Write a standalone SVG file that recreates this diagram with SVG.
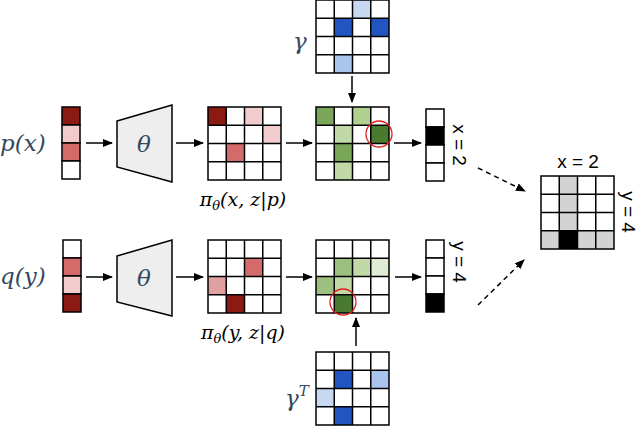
<svg xmlns="http://www.w3.org/2000/svg" width="640" height="426" viewBox="0 0 640 426">
<style>
.c{stroke:#000;stroke-width:1.5;fill:#fff}
.m{font-family:"DejaVu Serif","Liberation Serif",serif;font-style:italic;fill:#34495e;font-size:23px}
.k{font-family:"DejaVu Serif","Liberation Serif",serif;font-style:italic;fill:#000;font-size:19px}
.s{font-family:"Liberation Sans",Arial,sans-serif;font-size:19px;fill:#000}
.a{stroke:#000;stroke-width:1.5;fill:none}
.tr{fill:#eeeeee;stroke:#000;stroke-width:1.5}
.gr{fill:none;stroke:#000;stroke-width:1.5}
</style>
<defs>
<marker id="ah" markerWidth="10" markerHeight="8" refX="9" refY="4" orient="auto" markerUnits="userSpaceOnUse"><path d="M0,0 L10,4 L0,8 z" fill="#000"/></marker>
<path id="grid" d="M0,0h73v73h-73z M18.25,0v73 M36.5,0v73 M54.75,0v73 M0,18.25h73 M0,36.5h73 M0,54.75h73"/>
</defs>

<g id="px"><text class="m" x="0" y="151">p(x)</text>
<rect class="c" x="62" y="107" width="18" height="18" style="fill:#8b1a13"/>
<rect class="c" x="62" y="125" width="18" height="18" style="fill:#f2cccc"/>
<rect class="c" x="62" y="143" width="18" height="18" style="fill:#d46a6a"/>
<rect class="c" x="62" y="161" width="18" height="18"/></g>

<g id="theta1"><path class="tr" d="M117,121 L172,105 L172,182 L117,167 z"/><text class="m" x="144" y="152" text-anchor="middle">θ</text></g>

<g id="pi1">
<rect x="208" y="107" width="73" height="73" fill="#fff"/>
<rect x="208" y="107" width="18.25" height="18.25" fill="#8b1a13"/>
<rect x="244.5" y="107" width="18.25" height="18.25" fill="#f2cccc"/>
<rect x="262.75" y="125.25" width="18.25" height="18.25" fill="#f2cccc"/>
<rect x="226.25" y="143.5" width="18.25" height="18.25" fill="#d46a6a"/>
<use href="#grid" class="gr" x="208" y="107"/>
<text class="k" x="243" y="206" text-anchor="middle">π<tspan font-size="13" dy="4">θ</tspan><tspan dy="-4">(x, z|p)</tspan></text></g>

<g id="gamma">
<rect x="316" y="0" width="73" height="73" fill="#fff"/>
<rect x="352.5" y="0" width="18.25" height="18.25" fill="#c8d8f2"/>
<rect x="334.25" y="18.25" width="18.25" height="18.25" fill="#2255c0"/>
<rect x="370.75" y="18.25" width="18.25" height="18.25" fill="#2255c0"/>
<rect x="334.25" y="54.75" width="18.25" height="18.25" fill="#aac4ee"/>
<use href="#grid" class="gr" x="316" y="0"/>
<text class="m" x="293" y="49">γ</text></g>

<g id="z1">
<rect x="316" y="107" width="73" height="73" fill="#fff"/>
<rect x="316" y="107" width="18.25" height="18.25" fill="#7aa65a"/>
<rect x="352.5" y="107" width="18.25" height="18.25" fill="#b0d090"/>
<rect x="334.25" y="125.25" width="18.25" height="18.25" fill="#c0d9a6"/>
<rect x="370.75" y="125.25" width="18.25" height="18.25" fill="#4a7a30"/>
<rect x="334.25" y="143.5" width="18.25" height="18.25" fill="#7aa65a"/>
<rect x="334.25" y="161.75" width="18.25" height="18.25" fill="#c0d9a6"/>
<use href="#grid" class="gr" x="316" y="107"/>
<circle cx="379" cy="134" r="13" fill="none" stroke="#e02020" stroke-width="1.3"/></g>

<g id="ox">
<rect class="c" x="426" y="109" width="18" height="18"/>
<rect class="c" x="426" y="127" width="18" height="18" style="fill:#000"/>
<rect class="c" x="426" y="145" width="18" height="18"/>
<rect class="c" x="426" y="163" width="18" height="18"/>
<text class="s" transform="translate(453,145) rotate(90)" text-anchor="middle">x = 2</text></g>

<g id="qy"><text class="m" x="0" y="284">q(y)</text>
<rect class="c" x="63" y="240" width="18" height="18"/>
<rect class="c" x="63" y="258" width="18" height="18" style="fill:#d46a6a"/>
<rect class="c" x="63" y="276" width="18" height="18" style="fill:#f2cccc"/>
<rect class="c" x="63" y="294" width="18" height="18" style="fill:#8b1a13"/></g>

<g id="theta2"><path class="tr" d="M117,256 L172,240 L172,316 L117,302 z"/><text class="m" x="144" y="286" text-anchor="middle">θ</text></g>

<g id="pi2">
<rect x="208" y="240" width="73" height="73" fill="#fff"/>
<rect x="244.5" y="258.25" width="18.25" height="18.25" fill="#d46a6a"/>
<rect x="208" y="276.5" width="18.25" height="18.25" fill="#e0a0a0"/>
<rect x="226.25" y="294.75" width="18.25" height="18.25" fill="#8b1a13"/>
<use href="#grid" class="gr" x="208" y="240"/>
<text class="k" x="243" y="339" text-anchor="middle">π<tspan font-size="13" dy="4">θ</tspan><tspan dy="-4">(y, z|q)</tspan></text></g>

<g id="z2">
<rect x="316" y="240" width="73" height="73" fill="#fff"/>
<rect x="334.25" y="258.25" width="18.25" height="18.25" fill="#9cc07f"/>
<rect x="352.5" y="258.25" width="18.25" height="18.25" fill="#c0d9a6"/>
<rect x="370.75" y="258.25" width="18.25" height="18.25" fill="#e0ebd5"/>
<rect x="316" y="276.5" width="18.25" height="18.25" fill="#9cc07f"/>
<rect x="334.25" y="276.5" width="18.25" height="18.25" fill="#c0d9a6"/>
<rect x="334.25" y="294.75" width="18.25" height="18.25" fill="#4a7a30"/>
<use href="#grid" class="gr" x="316" y="240"/>
<circle cx="343" cy="302" r="13" fill="none" stroke="#e02020" stroke-width="1.3"/></g>

<g id="gammaT">
<rect x="316" y="352" width="73" height="73" fill="#fff"/>
<rect x="334.25" y="370.25" width="18.25" height="18.25" fill="#2255c0"/>
<rect x="370.75" y="370.25" width="18.25" height="18.25" fill="#aac4ee"/>
<rect x="316" y="388.5" width="18.25" height="18.25" fill="#c8d8f2"/>
<rect x="334.25" y="406.75" width="18.25" height="18.25" fill="#2255c0"/>
<use href="#grid" class="gr" x="316" y="352"/>
<text class="m" x="285" y="406">γ<tspan font-size="15" dy="-10">T</tspan></text></g>

<g id="oy">
<rect class="c" x="426" y="240" width="18" height="18"/>
<rect class="c" x="426" y="258" width="18" height="18"/>
<rect class="c" x="426" y="276" width="18" height="18"/>
<rect class="c" x="426" y="294" width="18" height="18" style="fill:#000"/>
<text class="s" transform="translate(453,262) rotate(90)" text-anchor="middle">y = 4</text></g>

<g id="final">
<rect x="541" y="176" width="73" height="73" fill="#fff"/>
<rect x="559.25" y="176" width="18.25" height="54.75" fill="#d3d3d3"/>
<rect x="541" y="230.75" width="73" height="18.25" fill="#d3d3d3"/>
<rect x="559.25" y="230.75" width="18.25" height="18.25" fill="#000"/>
<use href="#grid" class="gr" x="541" y="176"/>
<text class="s" x="578" y="168" text-anchor="middle">x = 2</text>
<text class="s" transform="translate(622,212) rotate(90)" text-anchor="middle">y = 4</text></g>

<g id="connectors">
<line class="a" x1="86" y1="143" x2="112" y2="143" marker-end="url(#ah)"/>
<line class="a" x1="176" y1="143" x2="203" y2="143" marker-end="url(#ah)"/>
<line class="a" x1="286" y1="143" x2="312" y2="143" marker-end="url(#ah)"/>
<line class="a" x1="394" y1="143" x2="421" y2="143" marker-end="url(#ah)"/>
<line class="a" x1="352" y1="76" x2="352" y2="102" marker-end="url(#ah)"/>
<line class="a" x1="86" y1="277" x2="112" y2="277" marker-end="url(#ah)"/>
<line class="a" x1="176" y1="277" x2="203" y2="277" marker-end="url(#ah)"/>
<line class="a" x1="286" y1="277" x2="312" y2="277" marker-end="url(#ah)"/>
<line class="a" x1="395" y1="277" x2="421" y2="277" marker-end="url(#ah)"/>
<line class="a" x1="356" y1="346" x2="356" y2="318" marker-end="url(#ah)"/>
<line class="a" x1="478" y1="168" x2="525" y2="191" stroke-dasharray="5,4" marker-end="url(#ah)"/>
<line class="a" x1="478" y1="305" x2="524" y2="260" stroke-dasharray="5,4" marker-end="url(#ah)"/>
</g>
</svg>
